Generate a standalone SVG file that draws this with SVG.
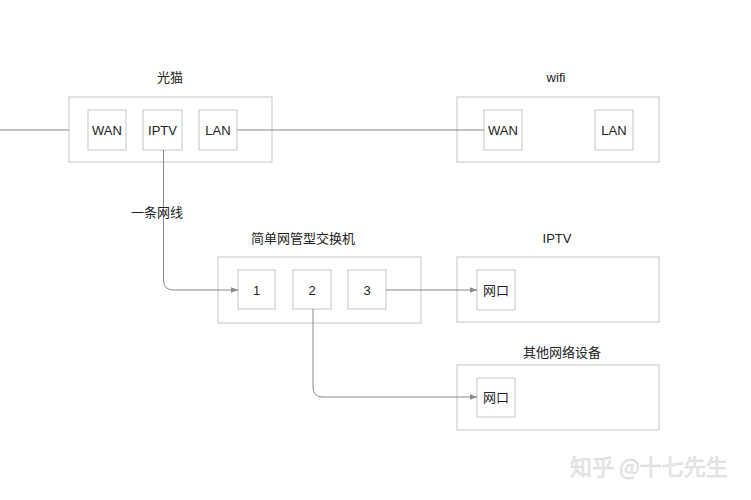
<svg xmlns="http://www.w3.org/2000/svg" width="751" height="500" viewBox="0 0 751 500">
<style>
.box{fill:#fff;stroke:#cfcfcf;stroke-width:1.2}
.port{fill:#fff;stroke:#cfcfcf;stroke-width:1.2}
.t{font-family:"Liberation Sans","Noto Sans CJK SC",sans-serif;font-size:13px;fill:#222;text-anchor:middle}
.c{fill:none;stroke:#8a8a8a;stroke-width:1}
.wm{font-family:"Noto Sans CJK SC",sans-serif;font-size:22px;fill:#ececec;stroke:#d2d2d2;stroke-width:0.5}
</style>
<defs>
<marker id="ah" viewBox="0 0 10 10" refX="10" refY="5" markerWidth="7" markerHeight="7" orient="auto" markerUnits="userSpaceOnUse">
<path d="M0,1 L10,5 L0,9 z" fill="#8a8a8a"/>
</marker>
</defs>
<rect width="751" height="500" fill="#fff"/>
<g id="guangmao">
<text class="t" x="170" y="82">光猫</text>
<rect class="box" x="69" y="97" width="203" height="65"/>
<rect class="port" x="88" y="110" width="38" height="40"/>
<text class="t" x="107" y="135">WAN</text>
<rect class="port" x="143" y="110" width="39" height="40"/>
<text class="t" x="162.5" y="135">IPTV</text>
<rect class="port" x="199" y="110" width="38" height="40"/>
<text class="t" x="218" y="135">LAN</text>
</g>
<g id="wifi">
<text class="t" x="556" y="82">wifi</text>
<rect class="box" x="457" y="97" width="202" height="65"/>
<rect class="port" x="484" y="110" width="38" height="40"/>
<text class="t" x="503" y="135">WAN</text>
<rect class="port" x="595" y="110" width="38" height="40"/>
<text class="t" x="614" y="135">LAN</text>
</g>
<g id="switch">
<text class="t" x="303" y="243">简单网管型交换机</text>
<rect class="box" x="218" y="257" width="203" height="66"/>
<rect class="port" x="238" y="270" width="37" height="39"/>
<text class="t" x="256.5" y="295">1</text>
<rect class="port" x="293" y="270" width="38" height="39"/>
<text class="t" x="312" y="295">2</text>
<rect class="port" x="348" y="270" width="38" height="39"/>
<text class="t" x="367" y="295">3</text>
</g>
<g id="iptv">
<text class="t" x="557" y="243">IPTV</text>
<rect class="box" x="457" y="257" width="202" height="65"/>
<rect class="port" x="477" y="270" width="38" height="40"/>
<text class="t" x="496" y="295">网口</text>
</g>
<g id="other">
<text class="t" x="562" y="357">其他网络设备</text>
<rect class="box" x="457" y="365" width="202" height="65"/>
<rect class="port" x="477" y="378" width="38" height="39"/>
<text class="t" x="496" y="402">网口</text>
</g>
<g id="connectors">
<line class="c" x1="0" y1="130" x2="69" y2="130"/>
<line class="c" x1="237" y1="130" x2="484" y2="130"/>
<path class="c" d="M163.5,150 V280 Q163.5,290 173.5,290 H238" marker-end="url(#ah)"/>
<line class="c" x1="386" y1="290" x2="477" y2="290" marker-end="url(#ah)"/>
<path class="c" d="M313,309 V387 Q313,397 323,397 H477" marker-end="url(#ah)"/>
<text class="t" x="157" y="217">一条网线</text>
</g>
<text class="wm" x="570" y="475">知乎 @十七先生</text>
</svg>
